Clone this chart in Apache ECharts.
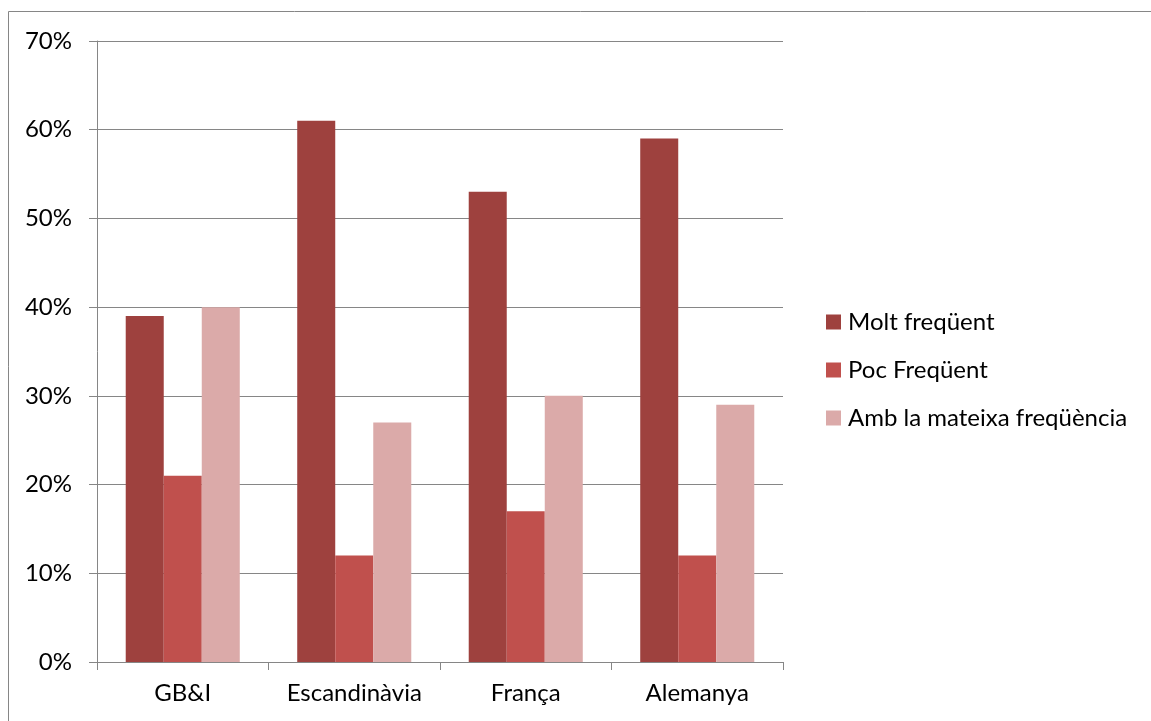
<!DOCTYPE html>
<html><head><meta charset="utf-8">
<script src="https://cdn.jsdelivr.net/npm/echarts@6/dist/echarts.min.js"></script>
<style>html,body{margin:0;padding:0;background:#fff}#c{width:1151px;height:721px}</style>
</head><body><div id="c"></div>
<script>
const categories = ['GB&I', 'Escandinàvia', 'França', 'Alemanya'];
const seriesNames = ['Molt freqüent', 'Poc Freqüent', 'Amb la mateixa freqüència'];
const moltFrequent = [39, 61, 53, 59];
const pocFrequent = [21, 12, 17, 12];
const ambMateixa = [40, 27, 30, 29];
const colors = ['#9E413E', '#C0504D', '#DBAAA9'];
const FONT = 'Lato';
const FS = 24;
const chart = echarts.init(document.getElementById('c'));
const values = [moltFrequent, pocFrequent, ambMateixa];
chart.setOption({
  animation: false,
  textStyle: { fontFamily: FONT },
  graphic: [{ type: 'rect', shape: { x: 8.5, y: 11.5, width: 1300, height: 900 }, style: { fill: 'none', stroke: '#868686', lineWidth: 1 } }],
  grid: { left: 97, right: 368, top: 41, bottom: 59, containLabel: false },
  legend: {
    orient: 'vertical', left: 821, top: 305, itemWidth: 15, itemHeight: 15, itemGap: 24,
    icon: 'rect', textStyle: { fontSize: FS, color: '#000', fontFamily: FONT, padding: [0, 0, 0, 2] },
    data: seriesNames
  },
  xAxis: {
    type: 'category', data: categories,
    axisLine: { lineStyle: { color: '#868686', width: 1 } },
    axisTick: { show: true, interval: 0, length: 8, lineStyle: { color: '#868686' } },
    axisLabel: { interval: 0, fontSize: FS, color: '#000', margin: 19, fontFamily: FONT }
  },
  yAxis: {
    type: 'value', min: 0, max: 70, interval: 10,
    axisLine: { show: true, lineStyle: { color: '#868686', width: 1 } },
    axisTick: { show: true, length: 8, lineStyle: { color: '#868686' } },
    axisLabel: { formatter: '{value}%', fontSize: FS, color: '#000', margin: 25, fontFamily: FONT },
    splitLine: { show: true, lineStyle: { color: '#868686', width: 1 } }
  },
  series: seriesNames.map((n, i) => ({
    name: n, type: 'bar', data: values[i], barGap: '0%', barCategoryGap: '33.5%',
    itemStyle: { color: colors[i] }
  }))
});
</script></body></html>
